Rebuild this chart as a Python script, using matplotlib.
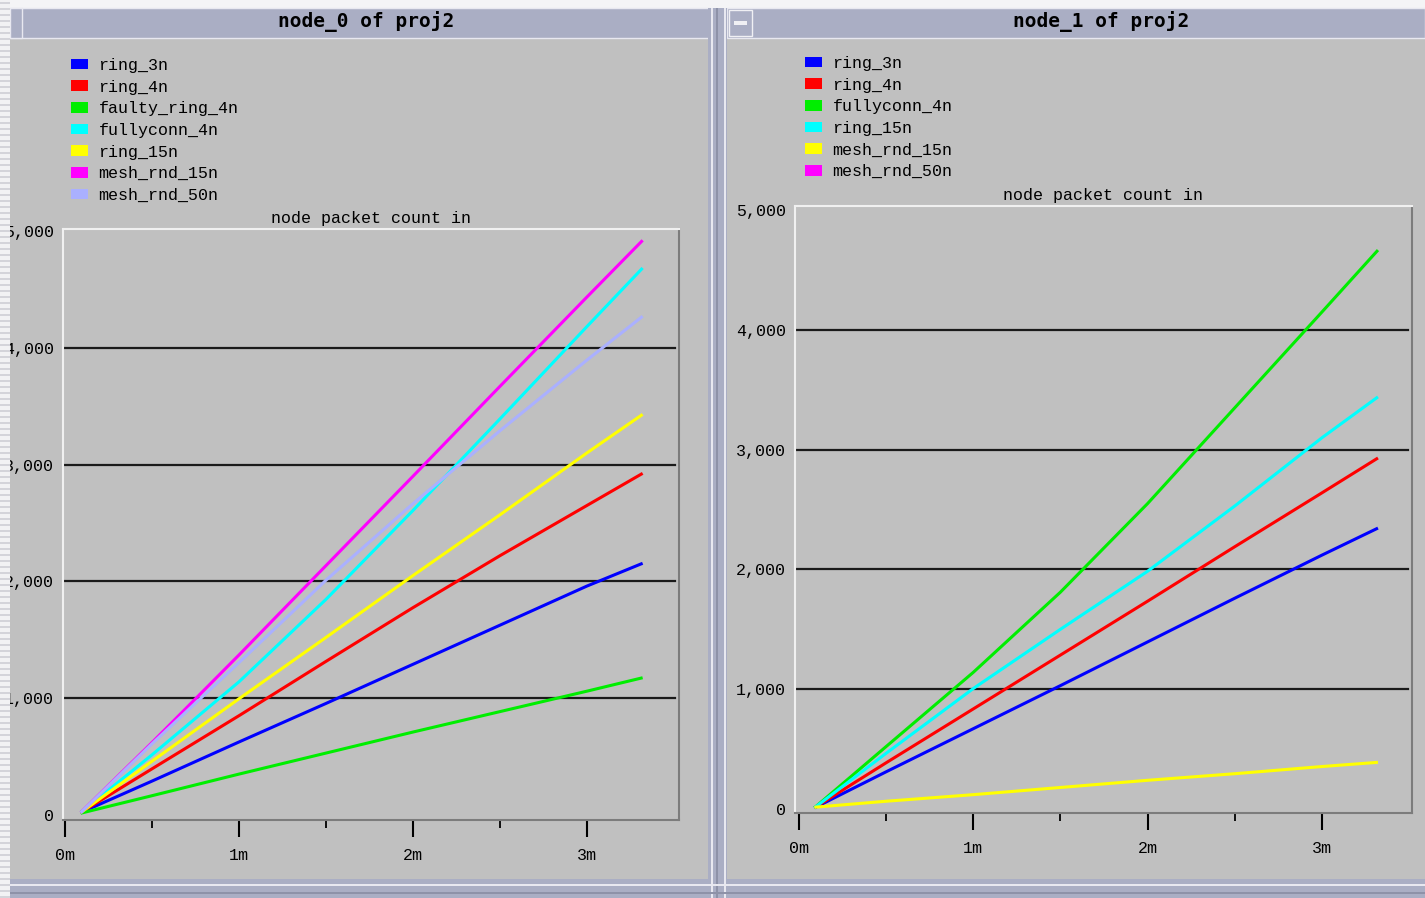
import matplotlib
matplotlib.use("Agg")
import matplotlib.pyplot as plt
from matplotlib.patches import Rectangle, Patch
from matplotlib.transforms import Affine2D

# --- data (time in minutes, packet counts) ---
t = [0.09, 0.5, 1.0, 1.5, 2.0, 2.5, 3.0, 3.32]

# node_0 of proj2
n0_names = ["ring_3n", "ring_4n", "faulty_ring_4n", "fullyconn_4n",
            "ring_15n", "mesh_rnd_15n", "mesh_rnd_50n"]
n0_ring_3n = [20, 290, 625, 955, 1290, 1625, 1960, 2155]
n0_ring_4n = [20, 395, 850, 1315, 1775, 2220, 2650, 2925]
n0_faulty_ring_4n = [15, 165, 350, 530, 710, 885, 1060, 1175]
n0_fullyconn_4n = [20, 515, 1140, 1846, 2607, 3391, 4182, 4683]
n0_ring_15n = [20, 460, 995, 1520, 2050, 2570, 3100, 3430]
n0_mesh_rnd_15n = [20, 620, 1370, 2135, 2900, 3670, 4435, 4920]
n0_mesh_rnd_50n = [20, 610, 1305, 2010, 2665, 3290, 3895, 4270]

# node_1 of proj2
n1_names = ["ring_3n", "ring_4n", "fullyconn_4n", "ring_15n",
            "mesh_rnd_15n", "mesh_rnd_50n"]
n1_ring_3n = [10, 310, 670, 1030, 1395, 1760, 2120, 2345]
n1_ring_4n = [10, 385, 835, 1285, 1735, 2190, 2640, 2930]
n1_fullyconn_4n = [10, 520, 1140, 1810, 2550, 3350, 4150, 4665]
n1_ring_15n = [10, 464, 1005, 1500, 1985, 2530, 3100, 3440]
n1_mesh_rnd_15n = [15, 65, 120, 180, 240, 295, 355, 390]
n1_mesh_rnd_50n = []   # no visible trace

colors = ["#0000ff", "#ff0000", "#00ee00", "#00ffff", "#ffff00", "#ff00ff", "#aab0ff"]

y_ticks = [0, 1000, 2000, 3000, 4000, 5000]
y_labels = ["0", "1,000", "2,000", "3,000", "4,000", "5,000"]
x_ticks = [0, 1, 2, 3]
x_labels = ["0m", "1m", "2m", "3m"]

MONO = "Liberation Mono"
BG = "#c0c0c0"
BAR = "#aaaec4"

W, H = 1425, 898
fig = plt.figure(figsize=(W / 100, H / 100), dpi=100, facecolor=BG)
px = Affine2D().scale(1 / W, -1 / H).translate(0, 1) + fig.transFigure


def rect(x0, y0, x1, y1, color, z=-5, ec=None):
    fig.add_artist(Rectangle((x0, y0), x1 - x0, y1 - y0, transform=px,
                             facecolor=color, edgecolor=ec or "none",
                             lw=1 if ec else 0, zorder=z))


# window chrome
rect(0, 0, W, 8, "#f4f4f6")
rect(10, 8, 710, 38, BAR, ec="#e8e8f0")
rect(727, 8, W, 38, BAR, ec="#e8e8f0")
rect(10, 8, 22, 38, BAR, ec="#e8e8f0")
rect(729, 10, 752, 36, BAR, ec="#f0f0f4")
rect(734, 21, 747, 25, "#f0f0f4", z=-4)
rect(708, 8, 727, H, BAR)
rect(711, 8, 713, H, "#e8e8f0", z=-4)
rect(716, 8, 718, H, "#8e92a8", z=-4)
rect(724, 8, 726, H, "#e8e8f0", z=-4)
rect(0, 879, W, H, BAR)
rect(0, 884, W, 886, "#e8e8f0", z=-4)
rect(0, 892, W, 894, "#8e92a8", z=-4)
# striped strip on the far left (drawn over the clipped labels)
rect(0, 0, 10, H, "#f2f2f4", z=20)
for yy in range(2, H, 6):
    rect(0, yy, 10, yy + 2, "#d4d4da", z=21)

fig.text(366 / W, 1 - 22 / H, "node_0 of proj2", ha="center", va="center",
         fontsize=14, fontweight="bold", family="DejaVu Sans Mono")
fig.text(1101 / W, 1 - 21 / H, "node_1 of proj2", ha="center", va="center",
         fontsize=14, fontweight="bold", family="DejaVu Sans Mono")


def panel(box, xlim, ylim, series, names, leg_xy):
    x0, y0, x1, y1 = box
    ax = fig.add_axes([x0 / W, 1 - y1 / H, (x1 - x0) / W, (y1 - y0) / H])
    ax.set_facecolor(BG)
    for vals, c in zip(series, colors):
        if vals:
            ax.plot(t, vals, color=c, lw=2.2, solid_capstyle="butt")
    for g in y_ticks[1:-1]:
        ax.axhline(g, xmin=0.004, xmax=0.993, color="#1a1a1a", lw=1.6, zorder=0.5)
    ax.set_xlim(xlim)
    ax.set_ylim(ylim)
    ax.set_xticks(x_ticks)
    ax.set_xticklabels(x_labels, family=MONO, fontsize=12)
    ax.set_xticks([0.5, 1.5, 2.5], minor=True)
    ax.set_yticks(y_ticks)
    ax.set_yticklabels(y_labels, family=MONO, fontsize=12)
    ax.tick_params(axis="x", which="major", length=12.5, width=1.5, pad=7.5, color="black")
    ax.tick_params(axis="x", which="minor", length=6, width=1.3, color="black")
    ax.tick_params(axis="y", length=0, pad=6.5)
    for s, c in [("top", "#f0f0f0"), ("left", "#f0f0f0"),
                 ("right", "#7c7c7c"), ("bottom", "#7c7c7c")]:
        ax.spines[s].set_color(c)
        ax.spines[s].set_linewidth(1.5)
    ax.set_title("node packet count in", family=MONO, fontsize=12, pad=4.5)
    handles = [Patch(facecolor=c, edgecolor="none") for c in colors[:len(names)]]
    fig.legend(handles, names, loc="upper left",
               bbox_to_anchor=(leg_xy[0] / W, 1 - leg_xy[1] / H),
               frameon=False, prop={"family": MONO, "size": 12},
               handlelength=1.0, handleheight=0.6, handletextpad=0.65,
               labelspacing=0.40, borderpad=0, borderaxespad=0)
    return ax


panel((63, 229, 679, 820), (-0.0115, 3.529), (-43, 5017),
      [n0_ring_3n, n0_ring_4n, n0_faulty_ring_4n, n0_fullyconn_4n,
       n0_ring_15n, n0_mesh_rnd_15n, n0_mesh_rnd_50n],
      n0_names, (71, 58))

panel((795, 206, 1412, 813), (-0.021, 3.515), (-33, 5033),
      [n1_ring_3n, n1_ring_4n, n1_fullyconn_4n, n1_ring_15n,
       n1_mesh_rnd_15n, n1_mesh_rnd_50n],
      n1_names, (805, 56))

fig.savefig("out.png", dpi=100, facecolor=BG)
